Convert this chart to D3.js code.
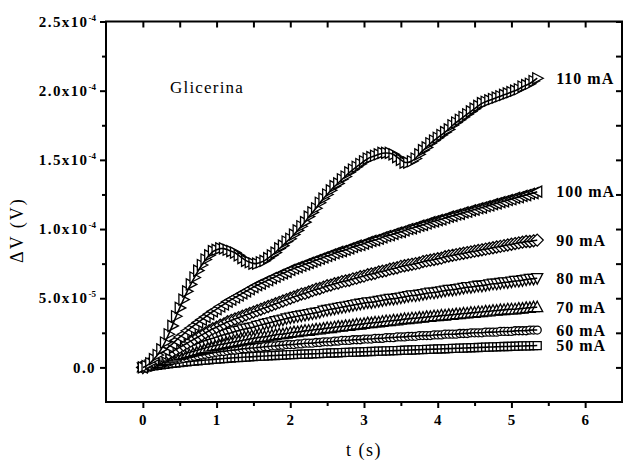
<!DOCTYPE html>
<html>
<head>
<meta charset="utf-8">
<script src="https://cdn.jsdelivr.net/npm/d3@7"></script>
<style>
body { margin: 0; background: #fff; }
text { font-family: "Liberation Serif", "DejaVu Serif", serif; fill: #000; }
</style>
</head>
<body>
<svg></svg>
<script>
// time (s)
var times = [0,0.05,0.1,0.15,0.2,0.25,0.3,0.35,0.4,0.45,
  0.5,0.55,0.6,0.65,0.7,0.75,0.8,0.85,0.9,0.95,
  1,1.05,1.1,1.15,1.2,1.25,1.3,1.35,1.4,1.45,
  1.5,1.55,1.6,1.65,1.7,1.75,1.8,1.85,1.9,1.95,
  2,2.05,2.1,2.15,2.2,2.25,2.3,2.35,2.4,2.45,
  2.5,2.55,2.6,2.65,2.7,2.75,2.8,2.85,2.9,2.95,
  3,3.05,3.1,3.15,3.2,3.25,3.3,3.35,3.4,3.45,
  3.5,3.55,3.6,3.65,3.7,3.75,3.8,3.85,3.9,3.95,
  4,4.05,4.1,4.15,4.2,4.25,4.3,4.35,4.4,4.45,
  4.5,4.55,4.6,4.65,4.7,4.75,4.8,4.85,4.9,4.95,
  5,5.05,5.1,5.15,5.2,5.25,5.3,5.35];

// delta V, in units of 1e-5 V
var dv50 = [0,0.04,0.08,0.12,0.15,0.19,0.22,0.26,0.29,0.32,
  0.35,0.38,0.41,0.43,0.46,0.48,0.51,0.53,0.55,0.58,
  0.6,0.62,0.64,0.66,0.68,0.7,0.71,0.73,0.75,0.76,
  0.78,0.8,0.81,0.82,0.84,0.85,0.86,0.88,0.89,0.9,
  0.92,0.93,0.94,0.95,0.96,0.97,0.98,0.99,1.0,1.02,
  1.03,1.04,1.05,1.06,1.07,1.08,1.09,1.1,1.11,1.12,
  1.13,1.14,1.15,1.16,1.17,1.18,1.19,1.2,1.21,1.22,
  1.23,1.24,1.25,1.26,1.27,1.28,1.29,1.3,1.31,1.32,
  1.33,1.34,1.35,1.36,1.37,1.38,1.39,1.4,1.41,1.42,
  1.43,1.44,1.45,1.46,1.47,1.48,1.49,1.5,1.51,1.51,
  1.52,1.53,1.54,1.55,1.56,1.56,1.57,1.58];
var dv60 = [0,0.05,0.1,0.2,0.25,0.3,0.35,0.4,0.5,0.55,
  0.6,0.65,0.7,0.75,0.8,0.85,0.9,0.95,1.0,1.05,
  1.1,1.15,1.15,1.2,1.25,1.25,1.3,1.35,1.35,1.4,
  1.4,1.45,1.45,1.5,1.5,1.55,1.55,1.6,1.6,1.65,
  1.65,1.65,1.7,1.7,1.75,1.75,1.75,1.8,1.8,1.85,
  1.85,1.85,1.9,1.9,1.95,1.95,1.95,2.0,2.0,2.0,
  2.05,2.05,2.05,2.1,2.1,2.1,2.15,2.15,2.15,2.2,
  2.2,2.2,2.25,2.25,2.25,2.3,2.3,2.3,2.3,2.35,
  2.35,2.35,2.4,2.4,2.4,2.4,2.45,2.45,2.45,2.5,
  2.5,2.5,2.5,2.55,2.55,2.55,2.55,2.6,2.6,2.6,
  2.6,2.65,2.65,2.65,2.65,2.7,2.7,2.7];
var dv70 = [0,0.1,0.2,0.3,0.35,0.45,0.55,0.65,0.7,0.8,
  0.9,0.95,1.05,1.1,1.2,1.25,1.35,1.4,1.5,1.55,
  1.6,1.65,1.7,1.75,1.8,1.85,1.9,1.95,2.0,2.05,
  2.1,2.15,2.2,2.2,2.25,2.3,2.35,2.4,2.4,2.45,
  2.5,2.55,2.55,2.6,2.65,2.65,2.7,2.75,2.75,2.8,
  2.85,2.85,2.9,2.95,2.95,3.0,3.0,3.05,3.1,3.1,
  3.15,3.2,3.2,3.25,3.25,3.3,3.35,3.35,3.4,3.4,
  3.45,3.5,3.5,3.55,3.55,3.6,3.6,3.65,3.65,3.7,
  3.7,3.75,3.75,3.8,3.8,3.85,3.85,3.9,3.9,3.95,
  3.95,4.0,4.0,4.05,4.05,4.1,4.1,4.15,4.15,4.2,
  4.2,4.2,4.25,4.25,4.3,4.3,4.35,4.35];
var dv80 = [0,0.1,0.2,0.35,0.45,0.6,0.7,0.85,0.95,1.1,
  1.2,1.3,1.45,1.55,1.65,1.75,1.85,1.95,2.05,2.1,
  2.2,2.3,2.35,2.45,2.5,2.6,2.65,2.75,2.8,2.85,
  2.9,3.0,3.05,3.15,3.2,3.25,3.35,3.4,3.45,3.55,
  3.6,3.65,3.7,3.75,3.8,3.85,3.9,3.95,4.0,4.1,
  4.15,4.2,4.25,4.3,4.35,4.4,4.45,4.5,4.55,4.6,
  4.65,4.7,4.7,4.75,4.8,4.85,4.9,4.95,4.95,5.0,
  5.05,5.1,5.15,5.2,5.2,5.25,5.3,5.35,5.4,5.4,
  5.45,5.5,5.55,5.6,5.6,5.65,5.7,5.75,5.8,5.8,
  5.85,5.9,5.9,5.95,6.0,6.05,6.05,6.1,6.15,6.15,
  6.2,6.25,6.25,6.3,6.35,6.4,6.4,6.45];
var dv90 = [0,0.1,0.25,0.4,0.55,0.7,0.85,1.0,1.15,1.3,
  1.45,1.6,1.75,1.9,2.05,2.2,2.35,2.5,2.65,2.8,
  2.9,3.05,3.15,3.3,3.4,3.5,3.6,3.7,3.8,3.9,
  4.0,4.1,4.2,4.3,4.4,4.5,4.6,4.7,4.8,4.9,
  5.0,5.1,5.2,5.3,5.35,5.45,5.55,5.65,5.7,5.8,
  5.9,5.95,6.05,6.1,6.2,6.25,6.3,6.4,6.45,6.55,
  6.6,6.7,6.75,6.8,6.9,6.95,7.0,7.1,7.15,7.2,
  7.3,7.35,7.4,7.45,7.5,7.55,7.65,7.7,7.75,7.8,
  7.85,7.9,8.0,8.05,8.1,8.15,8.2,8.25,8.3,8.35,
  8.4,8.45,8.5,8.55,8.6,8.65,8.7,8.75,8.8,8.85,
  8.9,8.95,9.0,9.05,9.1,9.1,9.15,9.2];
var dv100 = [0,0.15,0.35,0.55,0.8,1.0,1.25,1.5,1.7,1.95,
  2.2,2.4,2.65,2.85,3.05,3.25,3.45,3.65,3.85,4.05,
  4.2,4.4,4.55,4.75,4.9,5.05,5.2,5.35,5.5,5.65,
  5.8,5.95,6.05,6.2,6.3,6.45,6.55,6.7,6.8,6.9,
  7.05,7.15,7.25,7.35,7.45,7.55,7.65,7.75,7.85,7.95,
  8.05,8.15,8.25,8.35,8.4,8.5,8.6,8.7,8.8,8.85,
  8.95,9.05,9.15,9.2,9.3,9.4,9.5,9.55,9.65,9.75,
  9.8,9.9,10.0,10.05,10.15,10.25,10.3,10.4,10.5,10.55,
  10.65,10.7,10.8,10.9,10.95,11.05,11.1,11.2,11.25,11.35,
  11.4,11.5,11.55,11.65,11.7,11.8,11.85,11.95,12.0,12.1,
  12.15,12.25,12.3,12.4,12.45,12.55,12.6,12.7];
var dv110 = [0,0.1,0.3,0.6,0.9,1.3,1.8,2.4,3.0,3.7,
  4.3,4.9,5.5,6.0,6.5,7.0,7.4,7.8,8.1,8.4,
  8.5,8.6,8.6,8.5,8.4,8.3,8.1,7.9,7.7,7.6,
  7.5,7.5,7.6,7.7,7.9,8.1,8.3,8.6,8.8,9.1,
  9.3,9.6,9.9,10.2,10.5,10.9,11.2,11.5,11.9,12.2,
  12.5,12.8,13.1,13.3,13.6,13.8,14.1,14.3,14.5,14.7,
  14.9,15.1,15.2,15.3,15.4,15.5,15.5,15.5,15.4,15.2,
  15.0,14.8,14.8,14.9,15.1,15.4,15.7,15.9,16.2,16.4,
  16.6,16.8,17.0,17.2,17.5,17.7,17.9,18.1,18.3,18.5,
  18.7,18.9,19.1,19.2,19.3,19.4,19.5,19.6,19.7,19.8,
  19.9,20.0,20.1,20.3,20.4,20.5,20.7,20.9];

var seriesNames = ["50 mA", "60 mA", "70 mA", "80 mA", "90 mA", "100 mA", "110 mA"];
var seriesValues = [dv50, dv60, dv70, dv80, dv90, dv100, dv110];
var seriesShapes = ["square", "circle", "up", "down", "diamond", "left", "right"];

var xTicks = [0, 1, 2, 3, 4, 5, 6];
var yTicks = [0, 5, 10, 15, 20, 25];
var yTickMant = ["0.0", "5.0x10", "1.0x10", "1.5x10", "2.0x10", "2.5x10"];
var yTickExp = ["", "-5", "-4", "-4", "-4", "-4"];

var width = 626, height = 460;
var svg = d3.select("svg").attr("width", width).attr("height", height);

var x = d3.scaleLinear().domain([-0.5, 6.5]).range([106, 622]);
var y = d3.scaleLinear().domain([-2.5, 25]).range([402, 21.5]);

var shapes = {
  square: "M-4,-4H4V4H-4Z",
  circle: "M4,0A4,4 0 1,1 -4,0A4,4 0 1,1 4,0Z",
  up: "M0,-6L5.5,4.5H-5.5Z",
  down: "M0,6L5.5,-4.5H-5.5Z",
  diamond: "M0,-6L6,0L0,6L-6,0Z",
  left: "M-6,0L4.5,-5.5V5.5Z",
  right: "M6,0L-4.5,-5.5V5.5Z"
};

var line = d3.line()
  .x(function(d, i) { return x(times[i]); })
  .y(function(d) { return y(d); })
  .curve(d3.curveBasis);

// series
seriesValues.forEach(function(vals, k) {
  var g = svg.append("g");
  g.selectAll("path")
    .data(vals)
    .enter()
    .append("path")
    .attr("d", shapes[seriesShapes[k]])
    .attr("transform", function(d, i) {
      return "translate(" + x(times[i]) + "," + y(d) + ")";
    })
    .attr("fill", "#fff")
    .attr("stroke", "#000")
    .attr("stroke-width", 1.3);
  g.append("path")
    .attr("d", line(vals))
    .attr("fill", "none")
    .attr("stroke", "#000")
    .attr("stroke-width", 1.6);
  var n = vals.length - 1;
  svg.append("text")
    .attr("x", x(times[n]) + 19)
    .attr("y", y(vals[n]))
    .attr("dy", "0.35em")
    .attr("font-size", 16)
    .attr("font-weight", "bold")
    .attr("letter-spacing", 1)
    .text(seriesNames[k]);
});

// axes
function styleAxis(g) {
  g.select(".domain").remove();
  g.selectAll(".tick line").attr("stroke", "#000").attr("stroke-width", 2);
}
var xMinor = [0.5, 1.5, 2.5, 3.5, 4.5, 5.5];
var yMinor = [2.5, 7.5, 12.5, 17.5, 22.5];

svg.append("g").attr("transform", "translate(0,402)")
  .call(d3.axisBottom(x).tickValues(xTicks).tickSize(6).tickSizeOuter(0).tickFormat(""))
  .call(styleAxis);
svg.append("g").attr("transform", "translate(0,402)")
  .call(d3.axisBottom(x).tickValues(xMinor).tickSize(4).tickSizeOuter(0).tickFormat(""))
  .call(styleAxis);
svg.append("g").attr("transform", "translate(0,21.5)")
  .call(d3.axisBottom(x).tickValues(xTicks.concat(xMinor)).tickSize(6).tickSizeOuter(0).tickFormat(""))
  .call(styleAxis);
svg.append("g").attr("transform", "translate(106,0)")
  .call(d3.axisLeft(y).tickValues(yTicks).tickSize(6).tickSizeOuter(0).tickFormat(""))
  .call(styleAxis);
svg.append("g").attr("transform", "translate(106,0)")
  .call(d3.axisLeft(y).tickValues(yMinor).tickSize(4).tickSizeOuter(0).tickFormat(""))
  .call(styleAxis);
svg.append("g").attr("transform", "translate(622,0)")
  .call(d3.axisLeft(y).tickValues(yTicks.concat(yMinor)).tickSize(6).tickSizeOuter(0).tickFormat(""))
  .call(styleAxis);

svg.append("rect")
  .attr("x", 106).attr("y", 21.5)
  .attr("width", 516).attr("height", 380.5)
  .attr("fill", "none").attr("stroke", "#000").attr("stroke-width", 2);

// tick labels
svg.selectAll(".xlab")
  .data(xTicks)
  .enter()
  .append("text")
  .attr("x", function(d) { return x(d); })
  .attr("y", 425)
  .attr("text-anchor", "middle")
  .attr("font-size", 15)
  .attr("font-weight", "bold")
  .text(function(d) { return d; });

yTicks.forEach(function(v, i) {
  var t = svg.append("text")
    .attr("x", 96)
    .attr("y", y(v))
    .attr("dy", "0.35em")
    .attr("text-anchor", "end")
    .attr("font-size", 15)
    .attr("font-weight", "bold")
    .attr("letter-spacing", 1.4)
    .text(yTickMant[i]);
  if (yTickExp[i]) {
    t.append("tspan")
      .attr("dy", -6)
      .attr("font-size", 9)
      .attr("letter-spacing", 0)
      .text(yTickExp[i]);
  }
});

// titles
svg.append("text")
  .attr("x", 364).attr("y", 456)
  .attr("text-anchor", "middle")
  .attr("font-size", 18)
  .attr("letter-spacing", 1.5)
  .text("t (s)");
svg.append("text")
  .attr("transform", "translate(23,230) rotate(-90)")
  .attr("text-anchor", "middle")
  .attr("font-size", 18)
  .attr("letter-spacing", 2)
  .text("\u0394V (V)");
svg.append("text")
  .attr("x", 170).attr("y", 93)
  .attr("font-size", 17)
  .attr("letter-spacing", 1.2)
  .text("Glicerina");
</script>
</body>
</html>
